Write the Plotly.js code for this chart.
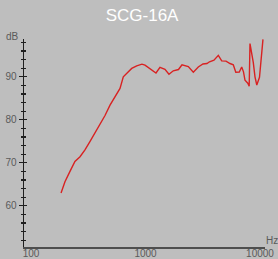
<!DOCTYPE html>
<html>
<head>
<meta charset="utf-8">
<script src="https://cdn.plot.ly/plotly-3.0.1.min.js"></script>
<style>html,body{margin:0;padding:0;background:#bebebe;}#chart{width:278px;height:259px;}</style>
</head>
<body>
<div id="chart"></div>
<script>
const freqHz = [183,198,219,242,268,296,327,362,401,443,490,542,599,640,685,758,838,931,990,1094,1235,1338,1479,1603,1749,1941,2084,2365,2616,2891,3177,3443,3622,3963,4128,4325,4630,5048,5470,5846,6146,6592,6921,7176,7396,7824,8048,8178,8740,9043,9376,9899,10616];
const levelDb = [62.95,65.6,68.0,70.3,71.4,73.0,74.9,76.9,78.8,81.0,83.4,85.4,87.3,90.0,90.8,91.95,92.55,92.95,92.7,91.95,90.9,92.2,91.75,90.6,91.4,91.7,92.8,92.4,91.05,92.3,93.0,93.1,93.5,93.85,94.3,95.0,93.7,93.65,93.1,92.8,91.05,91.1,92.3,91.15,89.2,88.5,87.8,97.75,93.3,90.0,88.1,89.9,98.7];
const xTickVals = [100,1000,10000];
const xTickText = ['100','1000','10000'];
const chartTitle = 'SCG-16A';

const tickFont = {family:'Liberation Sans, Arial, sans-serif', size:10, color:'#5a5a5a'};
const trace = {x:freqHz, y:levelDb, type:'scatter', mode:'lines',
  line:{color:'#d82222', width:1.4}, hoverinfo:'skip'};
const layout = {
  width:278, height:259,
  margin:{l:24, r:13, t:39, b:12, pad:0},
  paper_bgcolor:'#bebebe', plot_bgcolor:'#bebebe',
  showlegend:false,
  title:{text:chartTitle, x:0.49, xref:'paper', y:0.94, yref:'container', xanchor:'center', yanchor:'middle',
    font:{family:'Liberation Sans, Arial, sans-serif', size:17, color:'#ffffff'}},
  xaxis:{type:'log', range:[1.9389,4.0437], tickmode:'array', tickvals:xTickVals, ticktext:xTickText,
    ticks:'', ticklabelstandoff:-4, showgrid:false, zeroline:false, showline:true, linecolor:'#4e4e4e', linewidth:2,
    tickfont:tickFont, fixedrange:true},
  yaxis:{range:[50.4,98.8], tick0:0, dtick:10, ticks:'outside', ticklen:4, tickwidth:1.2, tickcolor:'#1e1e1e',
    minor:{dtick:2, ticks:'outside', ticklen:2, tickwidth:1.2, tickcolor:'#1e1e1e', showgrid:false},
    showgrid:false, zeroline:false, showline:true, linecolor:'#1e1e1e', linewidth:1.5,
    tickfont:tickFont, fixedrange:true},
  yaxis2:{overlaying:'y', side:'left', range:[50.4,98.8], tick0:0, dtick:10, ticks:'inside', ticklen:3, tickwidth:1.2, tickcolor:'#1e1e1e',
    minor:{dtick:2, ticks:'inside', ticklen:2, tickwidth:1.2, tickcolor:'#1e1e1e', showgrid:false},
    showticklabels:false, showgrid:false, zeroline:false, showline:false, fixedrange:true},
  annotations:[
    {text:'dB', xref:'paper', yref:'paper', x:-0.046, y:1.01, showarrow:false, xanchor:'center', yanchor:'middle', font:tickFont},
    {text:'Hz', xref:'paper', yref:'paper', x:1.027, y:0.03, showarrow:false, xanchor:'center', yanchor:'middle', font:tickFont}
  ]
};
const dummy = {x:[1000], y:[60], yaxis:'y2', type:'scatter', mode:'markers', marker:{opacity:0}, hoverinfo:'skip'};
Plotly.newPlot('chart', [trace, dummy], layout, {staticPlot:true, displayModeBar:false});
</script>
</body>
</html>
